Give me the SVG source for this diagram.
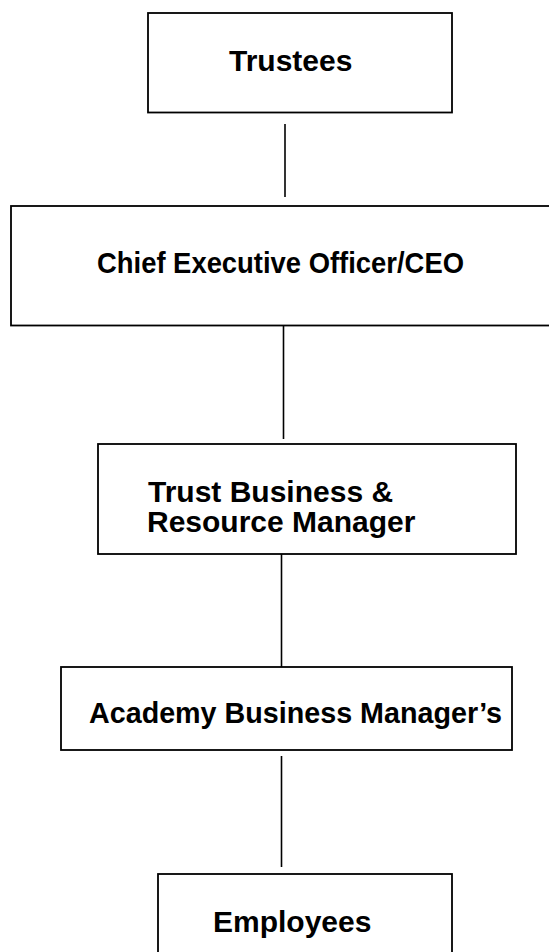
<svg xmlns="http://www.w3.org/2000/svg" width="549" height="952" viewBox="0 0 549 952">
<style>
.box{fill:#fff;stroke:#000;stroke-width:1.8}
.conn{stroke:#000;stroke-width:1.6;fill:none}
.t{font-family:"Liberation Sans",Arial,sans-serif;font-weight:bold;font-size:30px;fill:#000}
</style>
<rect width="549" height="952" fill="#fff"/>
<g id="connectors">
<line class="conn" x1="285" y1="124" x2="285" y2="197"/>
<line class="conn" x1="283.5" y1="326" x2="283.5" y2="439"/>
<line class="conn" x1="281.5" y1="554" x2="281.5" y2="667"/>
<line class="conn" x1="281.5" y1="756" x2="281.5" y2="867"/>
</g>
<g id="trustees">
<rect class="box" x="148" y="13" width="304" height="99.5"/>
<text class="t" x="229" y="71">Trustees</text>
</g>
<g id="ceo">
<rect class="box" x="11" y="206" width="550" height="119.5"/>
<text class="t" x="97" y="273" textLength="367" lengthAdjust="spacingAndGlyphs" font-size="26">Chief Executive Officer/CEO</text>
</g>
<g id="trust-business">
<rect class="box" x="98" y="444" width="418" height="110"/>
<text class="t" x="148" y="501.5">Trust Business &amp;</text>
<text class="t" x="147" y="531.5">Resource Manager</text>
</g>
<g id="academy">
<rect class="box" x="61" y="667" width="451" height="83"/>
<text class="t" x="89" y="722.5" font-size="28" textLength="413" lengthAdjust="spacingAndGlyphs">Academy Business Manager’s</text>
</g>
<g id="employees">
<rect class="box" x="158" y="874" width="294" height="90"/>
<text class="t" x="213" y="931.5">Employees</text>
</g>
</svg>
